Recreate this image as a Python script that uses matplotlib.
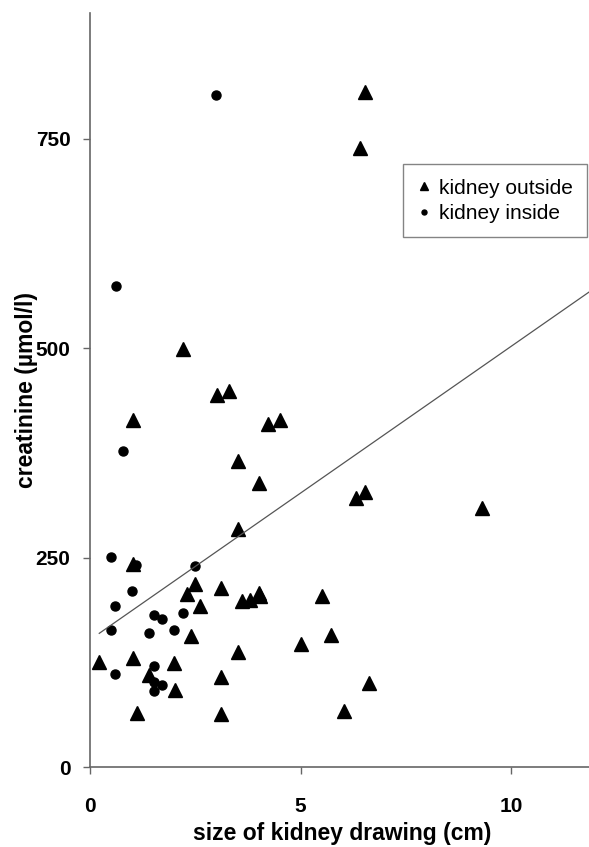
import matplotlib
matplotlib.use("Agg")
import numpy as np
import matplotlib.pyplot as plt

# kidney outside (triangles): size of drawing (cm), creatinine (umol/l)
outside_x = [0.21, 1.01, 1.12, 1.01, 1.39, 2.01, 1.99, 2.41, 2.50, 2.30, 2.61,
             3.11, 3.11, 3.11, 3.51, 3.61, 3.81, 4.02, 4.03, 3.51, 5.00, 5.51,
             5.73, 6.02, 6.62, 6.32, 6.52, 9.31, 2.22, 3.02, 3.29, 1.02, 4.22,
             4.52, 3.51, 4.02, 6.52, 6.42]
outside_y = [126, 131, 65, 243, 110, 92, 125, 157, 219, 207, 193,
             214, 108, 64, 284, 199, 200, 208, 204, 138, 147, 204,
             158, 67, 101, 321, 329, 309, 499, 444, 449, 414, 410,
             414, 366, 339, 806, 739]

# kidney inside (circles)
inside_x = [0.50, 1.10, 2.50, 1.00, 0.60, 1.51, 1.71, 2.21, 0.50, 1.39, 1.99,
            1.51, 0.60, 1.51, 1.71, 1.51, 0.79, 0.61, 2.99]
inside_y = [251, 241, 240, 210, 193, 182, 177, 184, 164, 160, 164,
            121, 111, 102, 98, 91, 377, 574, 802]

# regression line
line_x = [0.22, 11.85]
line_intercept = 152.3
line_slope = 35.0

plt.rcParams["font.family"] = ["Liberation Sans", "DejaVu Sans"]

fig = plt.figure(figsize=(5.89, 8.47), dpi=100)
ax = fig.add_axes([0.1528, 0.0939, 0.8472, 0.8908])

ax.plot(outside_x, outside_y, linestyle="none", marker="^", markersize=9.5,
        color="black", label="kidney outside")
ax.plot(inside_x, inside_y, linestyle="none", marker="o", markersize=6.5,
        color="black", label="kidney inside")

lx = np.array(line_x)
ax.plot(lx, line_intercept + line_slope * lx, color="#555555", linewidth=0.9)

ax.set_xlim(0, 11.85)
ax.set_ylim(0, 900)
ax.set_xticks([0, 5, 10])
ax.set_yticks([0, 250, 500, 750])

for side in ["top", "right"]:
    ax.spines[side].set_visible(False)
for side in ["left", "bottom"]:
    ax.spines[side].set_color("#666666")
    ax.spines[side].set_linewidth(1.2)

ax.tick_params(axis="x", direction="out", length=5, width=1, color="#666666",
               pad=16, labelsize=15)
ax.tick_params(axis="y", direction="out", length=5, width=1, color="#666666",
               pad=9, labelsize=15)
for lbl in ax.get_xticklabels() + ax.get_yticklabels():
    lbl.set_fontweight("bold")

ax.set_xlabel("size of kidney drawing (cm)", fontsize=16.5, fontweight="bold")
ax.set_ylabel("creatinine (µmol/l)", fontsize=16.5, fontweight="bold")
ax.xaxis.set_label_coords(0.505, -0.072)
ax.yaxis.set_label_coords(-0.105, 0.5)

leg = ax.legend(loc="upper right", bbox_to_anchor=(0.9966, 0.8064),
                bbox_transform=fig.transFigure, fontsize=15, frameon=True,
                fancybox=False, handlelength=0.6, handletextpad=0.4,
                borderpad=0.7, labelspacing=0.3, markerscale=0.55,
                borderaxespad=0)
leg.get_frame().set_edgecolor("#666666")
leg.get_frame().set_linewidth(1.0)

fig.savefig("out.png", dpi=100)
